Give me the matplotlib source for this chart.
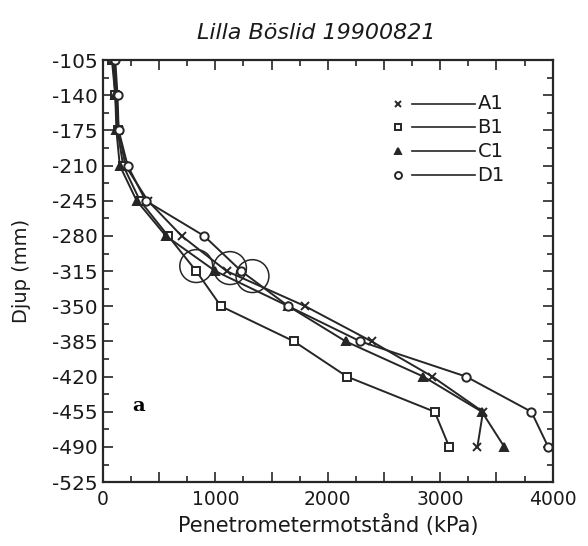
import numpy as np
import matplotlib.pyplot as plt
from matplotlib.ticker import MultipleLocator, FuncFormatter

plt.rcParams['font.family'] = ['DejaVu Sans']

# djup (mm) och penetrometermotstånd (kPa)
djup = [-105, -140, -175, -210, -245, -280, -315, -350, -385, -420, -455, -490]
a1 = [100, 120, 140, 200, 400, 700, 1100, 1800, 2390, 2930, 3380, 3330]
b1 = [80, 110, 130, 180, 330, 580, 830, 1050, 1700, 2170, 2950, 3080]
c1 = [90, 110, 120, 150, 300, 560, 1000, 1650, 2160, 2850, 3370, 3570]
d1 = [110, 130, 140, 220, 380, 900, 1230, 1650, 2290, 3230, 3810, 3960]

serier = ['A1', 'B1', 'C1', 'D1']
varden = [a1, b1, c1, d1]
markorer = ['x', 's', '^', 'o']

# handritade ringar runt några punkter
ring_x = [830, 1130, 1330]
ring_y = [-310, -312, -320]

fig = plt.figure(figsize=(5.88, 5.46), dpi=100)
ax = fig.add_axes([0.175, 0.117, 0.765, 0.773])

farg = '#262626'
for namn, v, m in zip(serier, varden, markorer):
    ax.plot(v, djup, color=farg, lw=1.4, marker=m, ms=6,
            mfc='white' if m in ('s', 'o') else farg, mec=farg, mew=1.4)

ax.scatter(ring_x, ring_y, s=560, facecolors='none', edgecolors=farg, lw=1.1)

ax.set_xlim(0, 4000)
ax.set_ylim(-525, -105)
ax.xaxis.set_major_locator(MultipleLocator(500))
ax.xaxis.set_minor_locator(MultipleLocator(250))
ax.xaxis.set_major_formatter(FuncFormatter(lambda v, p: f'{int(v)}' if v % 1000 == 0 else ''))
ax.yaxis.set_major_locator(MultipleLocator(35))
ax.yaxis.set_minor_locator(MultipleLocator(17.5))
ax.yaxis.set_major_formatter(FuncFormatter(lambda v, p: f'-{int(round(-v))}'))
ax.tick_params(which='both', direction='in', top=True, right=True, width=1.2, colors=farg,
               labelsize=13.5, labelcolor='#1a1a1a')
ax.tick_params(axis='y', labelsize=14.5)
ax.tick_params(which='major', length=7)
ax.tick_params(which='minor', length=4)
ax.tick_params(axis='x', pad=6)
for s in ax.spines.values():
    s.set_linewidth(1.6)
    s.set_color(farg)

ax.set_title('Lilla Böslid 19900821', fontsize=16, style='italic', x=0.475, pad=15,
             color='#1a1a1a')
ax.set_xlabel('Penetrometermotstånd (kPa)', fontsize=15, labelpad=3, color='#1a1a1a')
ax.set_ylabel('Djup (mm)', fontsize=14, color='#1a1a1a')
ax.yaxis.set_label_coords(-0.16, 0.5)

# förklaring: markör till vänster, linje, text
rader = [0.896, 0.841, 0.784, 0.727]
for namn, m, yy in zip(serier, markorer, rader):
    ax.plot([0.655], [yy], transform=ax.transAxes, marker=m, ms=5, color=farg,
            mfc='white' if m in ('s', 'o') else farg, mew=1.4, clip_on=False)
    ax.plot([0.687, 0.827], [yy, yy], transform=ax.transAxes, color=farg, lw=1.2)
    ax.text(0.833, yy, namn, transform=ax.transAxes, va='center', ha='left', fontsize=14,
            color='#1a1a1a')

ax.text(0.065, 0.18, 'a', transform=ax.transAxes, fontsize=14, family='DejaVu Serif',
        fontweight='bold', va='center')

fig.savefig('out.png', dpi=100)
